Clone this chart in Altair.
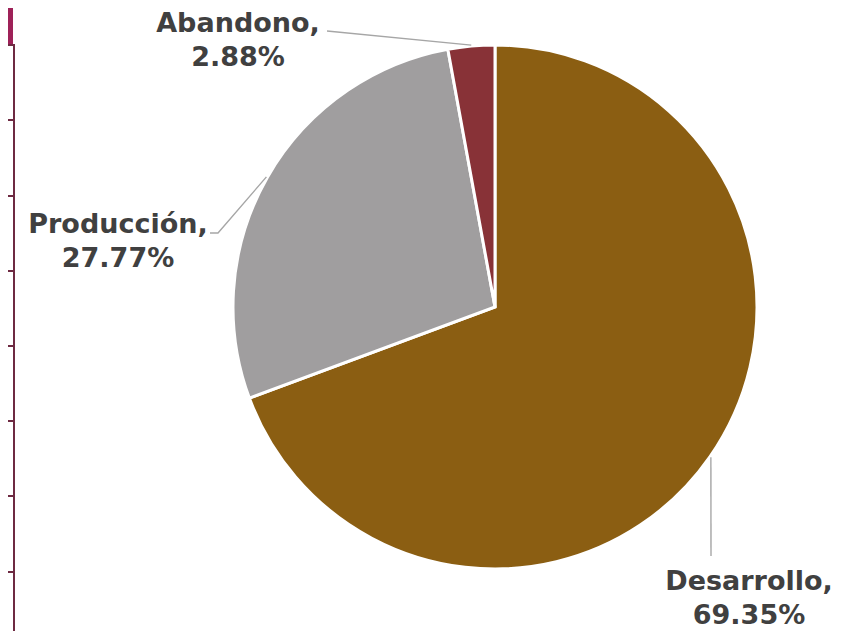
import math
import altair as alt
import pandas as pd

# ---- data ----
categories = ["Desarrollo", "Producción", "Abandono"]
shares = [69.35, 27.77, 2.88]
share_labels = ["69.35%", "27.77%", "2.88%"]
colors = ["#8B5E12", "#A09E9F", "#883237"]

# ---- layout (chart pixel frame) ----
W, H = 840, 623
CX, CY, R = 487, 299, 262
label_anchor = {"Desarrollo": (741, 582), "Producción": (110, 225), "Abandono": (230, 24)}
leader_elbows = {"Desarrollo": [(703, 548)], "Producción": [(210, 225), (202, 225)], "Abandono": [(319, 23)]}
deco_ticks_y = [37, 112, 188, 263, 338, 413, 488, 564]

df = pd.DataFrame({"cat": categories, "value": shares, "order": range(len(categories))})
df["text"] = [f"{c},\n{l}" for c, l in zip(categories, share_labels)]
df["lx"] = [label_anchor[c][0] for c in categories]
df["ly"] = [label_anchor[c][1] for c in categories]

# leader lines: start at slice mid-angle just outside the pie edge
rows = []
cum = 0.0
for c, v in zip(categories, shares):
    mid = (cum + v / 2) / 100 * 2 * math.pi
    cum += v
    pts = [(CX + (R + 1) * math.sin(mid), CY - (R + 1) * math.cos(mid))] + leader_elbows[c]
    for i, (px, py) in enumerate(pts):
        rows.append({"cat": c, "seq": i, "px": px, "py": py})
lines_df = pd.DataFrame(rows)

xs = alt.Scale(domain=[0, W], range=[0, W], nice=False, zero=False)
ys = alt.Scale(domain=[0, H], range=[0, H], nice=False, zero=False)

pie = alt.Chart(df).mark_arc(outerRadius=R, stroke="white", strokeWidth=3).encode(
    theta=alt.Theta("value:Q", stack=True),
    color=alt.Color("cat:N", scale=alt.Scale(domain=categories, range=colors), legend=None),
    order=alt.Order("order:Q"),
    x=alt.value(CX),
    y=alt.value(CY),
)

leaders = alt.Chart(lines_df).mark_line(color="#A6A6A6", strokeWidth=1.4).encode(
    x=alt.X("px:Q", scale=xs, axis=None),
    y=alt.Y("py:Q", scale=ys, axis=None),
    detail="cat:N",
    order="seq:Q",
)

labels = alt.Chart(df).mark_text(
    font="DejaVu Sans", fontWeight="bold", fontSize=27, color="#404040",
    align="center", baseline="alphabetic", lineBreak="\n", lineHeight=34,
).encode(
    x=alt.X("lx:Q", scale=xs, axis=None),
    y=alt.Y("ly:Q", scale=ys, axis=None),
    text="text:N",
)

# decorative slide edge at left
deco_block = alt.Chart(pd.DataFrame({"x": [0], "x2": [5], "y": [0], "y2": [36]})).mark_rect(color="#9E2158").encode(
    x=alt.X("x:Q", scale=xs, axis=None), x2="x2:Q",
    y=alt.Y("y:Q", scale=ys, axis=None), y2="y2:Q",
)
deco_line = alt.Chart(pd.DataFrame({"x": [6], "y": [36], "y2": [H]})).mark_rule(color="#6E2A42", strokeWidth=2).encode(
    x=alt.X("x:Q", scale=xs, axis=None),
    y=alt.Y("y:Q", scale=ys, axis=None), y2="y2:Q",
)
deco_ticks = alt.Chart(pd.DataFrame({"y": deco_ticks_y, "x": 0, "x2": 6})).mark_rule(color="#6E2A42", strokeWidth=2).encode(
    x=alt.X("x:Q", scale=xs, axis=None), x2="x2:Q",
    y=alt.Y("y:Q", scale=ys, axis=None),
)

chart = alt.layer(deco_block, deco_line, deco_ticks, pie, leaders, labels).properties(
    width=W, height=H, padding=0, autosize=alt.AutoSizeParams(type="none"),
    background="white",
).configure_view(stroke=None)

chart.save("out.html", embed_options={"renderer": "svg", "actions": False})
